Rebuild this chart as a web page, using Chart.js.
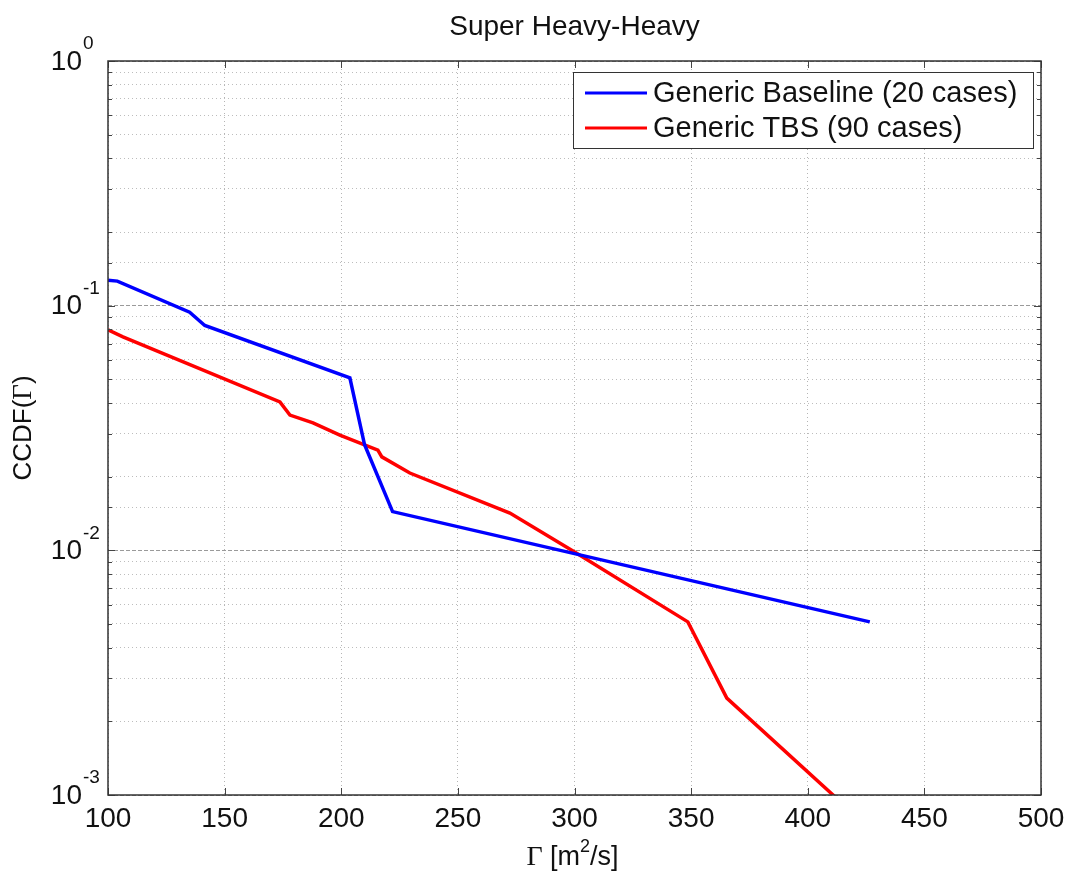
<!DOCTYPE html>
<html>
<head>
<meta charset="utf-8">
<script src="https://cdn.jsdelivr.net/npm/chart.js@4/dist/chart.umd.min.js"></script>
<style>
  html, body { margin: 0; padding: 0; background: #fff; }
  canvas { display: block; }
</style>
</head>
<body>
<canvas id="chart" width="1069" height="877"></canvas>
<script>
// values
const baselineX = [100, 104, 135, 141.5, 203.7, 210, 222, 426.6];
const baselineY = [0.127, 0.126, 0.094, 0.083, 0.0507, 0.027, 0.0144, 0.0051];
const tbsX = [100, 106.4, 173.7, 178, 187.9, 199.4, 215.7, 217.4, 229.4, 272.3, 299.7, 348.6, 365.3, 415];
const tbsY = [0.0796, 0.0745, 0.0404, 0.0357, 0.0332, 0.0296, 0.0257, 0.0241, 0.0207, 0.0142, 0.0099, 0.0051, 0.00249, 0.00092];
const xTicks = [100, 150, 200, 250, 300, 350, 400, 450, 500];
const yDecades = [0, -1, -2, -3];
const seriesNames = ['Generic Baseline (20 cases)', 'Generic TBS (90 cases)'];
const seriesColors = ['rgb(0,0,255)', 'rgb(255,0,0)'];

const SANS = '"Liberation Sans", Arial, sans-serif';
const SERIF = '"Liberation Serif", "Times New Roman", serif';

const toPoints = (xs, ys) => xs.map((x, i) => ({ x: x, y: ys[i] }));

// text, frame and inward ticks in the MATLAB look
const matlabAxes = {
  id: 'matlabAxes',
  afterDatasetsDraw(chart) {
    const { ctx, chartArea: a, scales } = chart;
    const xs = scales.x, ys = scales.y;
    ctx.save();

    // inward ticks
    ctx.strokeStyle = '#444';
    ctx.lineWidth = 1;
    ctx.beginPath();
    xTicks.forEach(v => {
      const px = Math.round(xs.getPixelForValue(v)) + 0.5;
      ctx.moveTo(px, a.bottom); ctx.lineTo(px, a.bottom - 7);
      ctx.moveTo(px, a.top); ctx.lineTo(px, a.top + 7);
    });
    ys.ticks.forEach(t => {
      const py = Math.round(ys.getPixelForValue(t.value)) + 0.5;
      const len = t.major ? 7 : 4;
      ctx.moveTo(a.left, py); ctx.lineTo(a.left + len, py);
      ctx.moveTo(a.right, py); ctx.lineTo(a.right - len, py);
    });
    ctx.stroke();

    // frame
    ctx.strokeStyle = '#333';
    ctx.lineWidth = 1.5;
    ctx.strokeRect(a.left, a.top, a.right - a.left, a.bottom - a.top);

    ctx.fillStyle = '#111';

    // title
    ctx.font = '28px ' + SANS;
    ctx.textAlign = 'center';
    ctx.textBaseline = 'middle';
    ctx.fillText('Super Heavy-Heavy', (a.left + a.right) / 2, 27);

    // x tick labels
    xTicks.forEach(v => {
      ctx.fillText(String(v), xs.getPixelForValue(v), a.bottom + 24);
    });

    // y tick labels 10^n
    yDecades.forEach(e => {
      const py = ys.getPixelForValue(Math.pow(10, e));
      ctx.font = '28px ' + SANS;
      ctx.textAlign = 'right';
      ctx.fillText('10', 82, py + 1);
      ctx.font = '19px ' + SANS;
      ctx.textAlign = 'left';
      ctx.fillText(String(e), 83, py - 17);
    });

    // x axis title: Γ [m²/s]
    const xParts = [
      { t: 'Γ', f: '28px ' + SERIF, dy: 0 },
      { t: ' [m', f: '27px ' + SANS, dy: 0 },
      { t: '2', f: '18px ' + SANS, dy: -11 },
      { t: '/s]', f: '27px ' + SANS, dy: 0 }
    ];
    let total = 0;
    xParts.forEach(p => { ctx.font = p.f; p.w = ctx.measureText(p.t).width; total += p.w; });
    let cx = (a.left + a.right) / 2 - total / 2 - 2;
    ctx.textAlign = 'left';
    xParts.forEach(p => {
      ctx.font = p.f;
      ctx.fillText(p.t, cx, 858 + p.dy);
      cx += p.w;
    });

    // y axis title: CCDF(Γ)
    ctx.save();
    ctx.translate(24, (a.top + a.bottom) / 2);
    ctx.rotate(-Math.PI / 2);
    const yParts = [
      { t: 'CCDF(', f: '26px ' + SANS },
      { t: 'Γ', f: '27px ' + SERIF },
      { t: ')', f: '26px ' + SANS }
    ];
    total = 0;
    yParts.forEach(p => { ctx.font = p.f; p.w = ctx.measureText(p.t).width; total += p.w; });
    cx = -total / 2;
    yParts.forEach(p => {
      ctx.font = p.f;
      ctx.fillText(p.t, cx, 0);
      cx += p.w;
    });
    ctx.restore();

    // legend box inside the axes
    const lx = 573, ly = 72, lw = 460, lh = 76;
    ctx.fillStyle = '#fff';
    ctx.fillRect(lx, ly, lw, lh);
    ctx.strokeStyle = '#333';
    ctx.lineWidth = 1;
    ctx.strokeRect(lx + 0.5, ly + 0.5, lw, lh);
    ctx.font = '29px ' + SANS;
    ctx.textBaseline = 'middle';
    seriesNames.forEach((name, i) => {
      const yy = 93 + i * 35;
      ctx.strokeStyle = seriesColors[i];
      ctx.lineWidth = 3;
      ctx.beginPath();
      ctx.moveTo(585, yy); ctx.lineTo(647, yy);
      ctx.stroke();
      ctx.fillStyle = '#111';
      ctx.fillText(name, 653, yy + 1);
    });

    ctx.restore();
  }
};

new Chart(document.getElementById('chart'), {
  type: 'line',
  data: {
    datasets: [
      {
        label: seriesNames[0],
        data: toPoints(baselineX, baselineY),
        borderColor: seriesColors[0],
        borderWidth: 3.5,
        pointRadius: 0,
        tension: 0
      },
      {
        label: seriesNames[1],
        data: toPoints(tbsX, tbsY),
        borderColor: seriesColors[1],
        borderWidth: 3.5,
        pointRadius: 0,
        tension: 0
      }
    ]
  },
  options: {
    responsive: false,
    animation: false,
    devicePixelRatio: 1,
    layout: { padding: { left: 108, right: 28, top: 61, bottom: 82 } },
    plugins: {
      legend: { display: false },
      title: { display: false },
      tooltip: { enabled: false }
    },
    scales: {
      x: {
        type: 'linear',
        min: 100,
        max: 500,
        ticks: { display: false, stepSize: 50 },
        grid: { drawTicks: false, color: '#b5b5b5', lineWidth: 1 },
        border: { display: false, dash: [1, 3] }
      },
      y: {
        type: 'logarithmic',
        min: 0.001,
        max: 1,
        ticks: { display: false },
        grid: {
          drawTicks: false,
          lineWidth: 1,
          color: c => (c.tick && c.tick.major) ? '#9a9a9a' : '#bdbdbd'
        },
        border: {
          display: false,
          dash: c => (c.tick && c.tick.major) ? [4, 2] : [1, 3]
        }
      }
    }
  },
  plugins: [matlabAxes]
});
</script>
</body>
</html>
